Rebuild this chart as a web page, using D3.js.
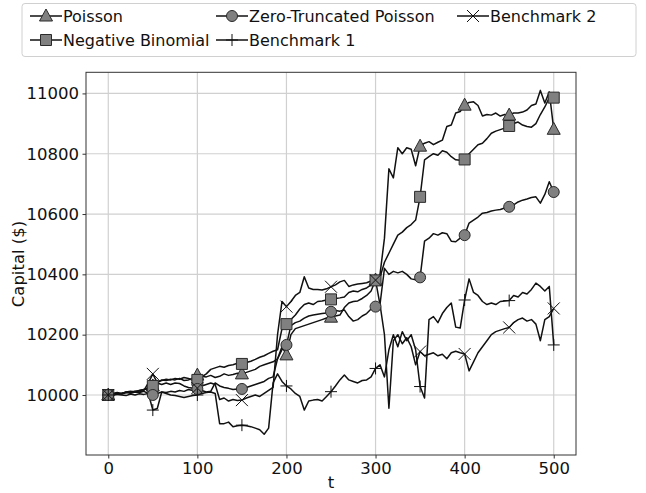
<!DOCTYPE html>
<html>
<head>
<meta charset="utf-8">
<script src="https://cdn.jsdelivr.net/npm/d3@7/dist/d3.min.js"></script>
<style>
body{margin:0;background:#fff}
text{font-family:'DejaVu Sans',sans-serif}
</style>
</head>
<body>
<div id="graph"></div>
<script>
"use strict"
// t goes 0..500 in steps of 5, one value per step
var tStep=5
var xTicks=[0,100,200,300,400,500]
var yTicks=[10000,10200,10400,10600,10800,11000]
var names=['Poisson','Negative Binomial','Zero-Truncated Poisson','Benchmark 1','Benchmark 2']

var poisson=[10000,10003,10006,10004,10010,10012,10010,10015,10018,10020,
10030,10040,10050,10048,10052,10050,10055,10048,10050,10055,
10066,10062,10060,10065,10058,10062,10070,10065,10068,10072,
10070,10075,10080,10085,10095,10100,10105,10110,10120,10160,
10133,10200,10220,10225,10230,10235,10240,10245,10250,10255,
10258,10262,10265,10290,10305,10310,10312,10320,10330,10345,
10381,10400,10520,10750,10720,10820,10800,10820,10815,10760,
10825,10835,10840,10830,10838,10845,10890,10895,10935,10940,
10961,10970,10972,10960,10925,10930,10928,10935,10925,10930,
10928,10935,10935,10938,10945,10960,10965,11010,10968,11005,
10881]
var negBinomial=[10000,10004,10002,10006,10008,10010,10012,10015,10018,10025,
10030,10045,10048,10052,10050,10055,10052,10058,10055,10050,
10050,10060,10070,10085,10090,10095,10092,10098,10100,10105,
10103,10108,10112,10118,10125,10130,10138,10145,10150,10220,
10235,10250,10265,10285,10300,10305,10300,10310,10312,10315,
10317,10320,10322,10325,10340,10345,10342,10350,10355,10365,
10380,10390,10440,10470,10500,10530,10540,10555,10565,10580,
10657,10780,10790,10800,10795,10810,10805,10790,10780,10778,
10781,10800,10815,10830,10835,10850,10868,10875,10880,10885,
10892,10900,10905,10895,10890,10888,10900,10930,10955,10985,
10986]
var zeroTrunc=[10000,9998,10002,10000,9998,10003,10000,10004,10002,10005,
10000,10005,10010,10008,10012,10010,10015,10012,10018,10015,
10020,10015,10010,10012,10040,10030,10025,10022,10018,10020,
10020,10025,10030,10035,10040,10045,10055,10060,10120,10150,
10166,10230,10240,10245,10255,10262,10265,10268,10270,10272,
10276,10280,10278,10282,10260,10245,10250,10262,10270,10285,
10293,10300,10420,10400,10410,10405,10410,10400,10385,10382,
10390,10510,10520,10535,10530,10538,10535,10510,10508,10520,
10530,10570,10580,10590,10603,10605,10610,10613,10615,10620,
10624,10630,10640,10646,10650,10655,10657,10636,10665,10707,
10673]
var bench1=[10000,10002,10005,10003,10008,10006,10010,10008,10012,10005,
9950,9955,10010,10005,10000,9998,9995,9992,9995,9998,
10000,10005,10008,10010,10005,9905,9905,9910,9895,9898,
9900,9898,9895,9890,9885,9870,9890,10040,10070,10045,
10030,10020,10005,9995,9950,9980,9983,9985,9980,9995,
10011,10030,10050,10066,10050,10045,10040,10048,10050,10060,
10088,10100,10060,10150,10200,10160,10210,10180,10200,10150,
10028,9990,10250,10260,10240,10270,10290,10305,10225,10222,
10315,10385,10340,10330,10310,10300,10305,10300,10310,10312,
10313,10330,10325,10340,10335,10350,10371,10360,10345,10360,
10166]
var bench2=[10000,10005,10008,10005,10010,10008,10012,10010,10015,10040,
10070,10040,10035,10040,10035,10040,10038,10030,10025,10022,
10023,10030,10035,10040,10035,9985,9990,9980,9985,9982,
9983,9990,9995,10000,9995,10005,10015,10025,10200,10310,
10293,10310,10330,10340,10392,10355,10350,10350,10348,10352,
10359,10365,10375,10380,10360,10365,10368,10370,10372,10378,
10381,10300,10200,9956,10180,10200,10170,10190,10160,10100,
10144,10130,10135,10140,10130,10135,10120,10140,10145,10140,
10136,10080,10110,10140,10160,10180,10200,10210,10215,10220,
10224,10240,10250,10255,10245,10250,10235,10180,10250,10260,
10287]

var series=[poisson,negBinomial,zeroTrunc,bench1,bench2]
var markers=['triangle','square','circle','plus','cross']
var fs=16.5,legendFs=16

// marker paths, centred on p
function svgMarker(kind,p){
  var x=p.x,y=p.y
  if(kind=='triangle')
    return 'M'+x+' '+(y-7)+' L'+(x+6.5)+' '+(y+5)+' L'+(x-6.5)+' '+(y+5)+' Z'
  if(kind=='square')
    return 'M'+(x-5.5)+' '+(y-5.5)+' H'+(x+5.5)+' V'+(y+5.5)+' H'+(x-5.5)+' Z'
  if(kind=='circle')
    return 'M'+(x-5.5)+' '+y+' A5.5 5.5 0 1 0 '+(x+5.5)+' '+y+' A5.5 5.5 0 1 0 '+(x-5.5)+' '+y
  if(kind=='plus')
    return 'M'+(x-6)+' '+y+' H'+(x+6)+' M'+x+' '+(y-6)+' V'+(y+6)
  return 'M'+(x-6)+' '+(y-6)+' L'+(x+6)+' '+(y+6)+' M'+(x+6)+' '+(y-6)+' L'+(x-6)+' '+(y+6)
}

function drawMarker(g,kind,p){
  var open=(kind=='plus'||kind=='cross')
  g.append('svg:path').attr('d',svgMarker(kind,p))
    .attr('fill',open?'none':'#808080')
    .attr('stroke',open?'#111':'#2a2a2a')
    .attr('stroke-width',1)
}

function refresh(){
  var g=d3.select('#graph').append('svg:svg').attr('width',646).attr('height',493)
  var left=86,right=576,top=72.3,bottom=455
  var x=d3.scaleLinear().domain([-25,525]).range([left,right])
  var y=d3.scaleLinear().domain([9801,11070]).range([bottom,top])

  // grid
  var grid=g.append('svg:g').attr('stroke','#d0d0d0').attr('stroke-width',1.2)
  xTicks.forEach(function(t){
    grid.append('svg:line').attr('x1',x(t)).attr('x2',x(t)).attr('y1',top).attr('y2',bottom)
  })
  yTicks.forEach(function(v){
    grid.append('svg:line').attr('x1',left).attr('x2',right).attr('y1',y(v)).attr('y2',y(v))
  })

  // axes
  var ax=g.append('svg:g').attr('transform','translate(0,'+bottom+')')
    .call(d3.axisBottom(x).tickValues(xTicks).tickSize(3.5).tickPadding(3.5).tickFormat(d3.format('d')))
  var ay=g.append('svg:g').attr('transform','translate('+left+',0)')
    .call(d3.axisLeft(y).tickValues(yTicks).tickSize(3.5).tickPadding(3.5).tickFormat(d3.format('d')))
  ;[ax,ay].forEach(function(a){
    a.select('.domain').remove()
    a.selectAll('text').attr('font-size',fs).attr('fill','#111').attr('font-family','DejaVu Sans')
    a.selectAll('line').attr('stroke','#333')
  })

  // lines and markers
  var line=d3.line().x(function(d,i){return x(i*tStep)}).y(function(d){return y(d)})
  for(var s=0;s<series.length;s++){
    g.append('svg:path').attr('d',line(series[s])).attr('fill','none')
      .attr('stroke','#111').attr('stroke-width',1.5).attr('stroke-linejoin','round')
  }
  for(s=0;s<series.length;s++){
    for(var i=0;i<series[s].length;i+=10)
      drawMarker(g,markers[s],{x:x(i*tStep),y:y(series[s][i])})
  }

  // frame
  g.append('svg:rect').attr('x',left).attr('y',top).attr('width',right-left).attr('height',bottom-top)
    .attr('fill','none').attr('stroke','#333').attr('stroke-width',1)

  // labels
  g.append('svg:text').attr('font-size',fs).attr('text-anchor','middle').attr('fill','#111')
    .attr('x',(left+right)/2).attr('y',488).text('t')
  g.append('svg:text').attr('font-size',fs).attr('text-anchor','middle').attr('fill','#111')
    .attr('transform','translate(24,264)rotate(-90)').text('Capital ($)')

  // legend, 3 columns filled down
  g.append('svg:rect').attr('x',22).attr('y',3.5).attr('width',614).attr('height',53).attr('rx',3)
    .attr('fill','#fff').attr('stroke','#d0d0d0').attr('stroke-width',1)
  var colX=[30,216,457],rowY=[16,40]
  for(s=0;s<names.length;s++){
    var cx=colX[Math.floor(s/2)],cy=rowY[s%2]
    g.append('svg:path').attr('d','M'+cx+' '+cy+' H'+(cx+32)).attr('stroke','#111').attr('stroke-width',1.5)
    drawMarker(g,markers[s],{x:cx+16,y:cy})
    g.append('svg:text').attr('font-size',legendFs).attr('fill','#111').attr('x',cx+33).attr('y',cy+6).text(names[s])
  }
}
refresh()
</script>
</body>
</html>
